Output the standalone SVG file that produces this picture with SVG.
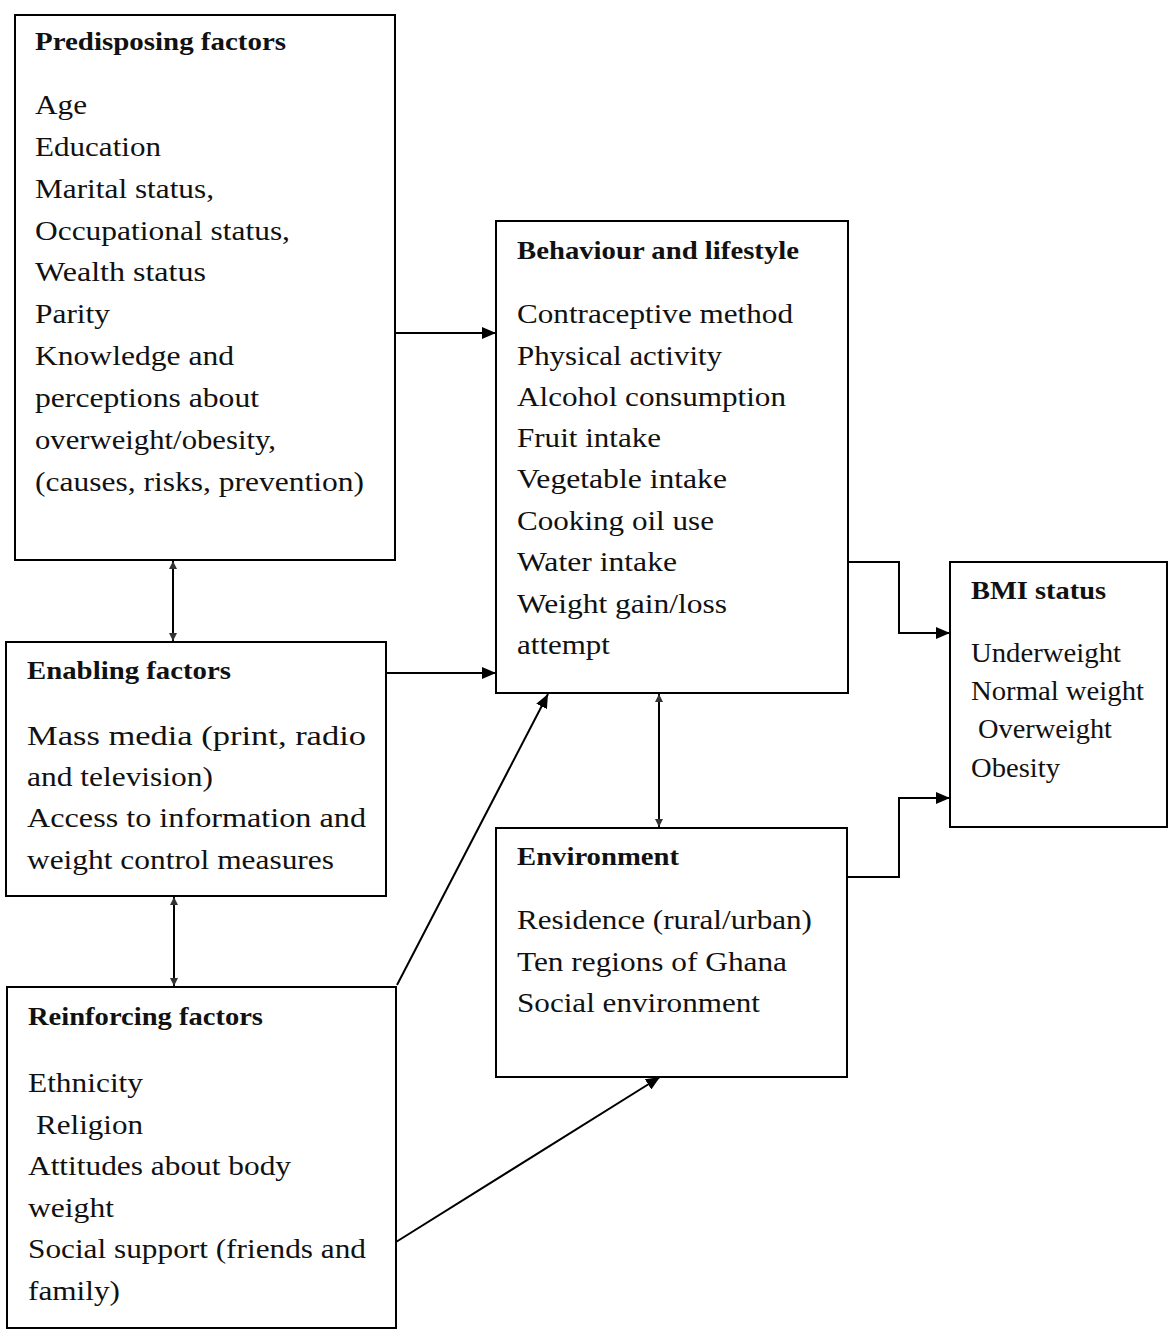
<svg xmlns="http://www.w3.org/2000/svg" width="1168" height="1329" viewBox="0 0 1168 1329">
<defs>
<style>
.box{fill:#fff;stroke:#000;stroke-width:2}
text{font-family:"Liberation Serif","Times New Roman",serif;fill:#111}
.t{font-size:28px}
.h{font-size:25px;font-weight:bold}
.s{font-size:27px}
.c{fill:none;stroke:#000;stroke-width:2}
.d{fill:none;stroke:#000;stroke-width:2}
</style>
<marker id="a" markerWidth="14" markerHeight="12" refX="14" refY="6" orient="auto" markerUnits="userSpaceOnUse">
<path d="M0,0 L14,6 L0,12 Z" fill="#000"/>
</marker>
<marker id="sm" markerWidth="8" markerHeight="8" refX="8" refY="4" orient="auto-start-reverse" markerUnits="userSpaceOnUse">
<path d="M0,0 L8,4 L0,8 Z" fill="#333"/>
</marker>
</defs>
<rect width="1168" height="1329" fill="#fff"/>

<g id="predisposing">
<rect class="box" x="15" y="15" width="380" height="545"/>
<text class="h" x="35" y="50" textLength="251" lengthAdjust="spacingAndGlyphs">Predisposing factors</text>
<text class="t" x="35" y="114" textLength="52" lengthAdjust="spacingAndGlyphs">Age</text>
<text class="t" x="35" y="156" textLength="126" lengthAdjust="spacingAndGlyphs">Education</text>
<text class="t" x="35" y="198" textLength="179" lengthAdjust="spacingAndGlyphs">Marital status,</text>
<text class="t" x="35" y="240" textLength="255" lengthAdjust="spacingAndGlyphs">Occupational status,</text>
<text class="t" x="35" y="281" textLength="171" lengthAdjust="spacingAndGlyphs">Wealth status</text>
<text class="t" x="35" y="323" textLength="75" lengthAdjust="spacingAndGlyphs">Parity</text>
<text class="t" x="35" y="365" textLength="199" lengthAdjust="spacingAndGlyphs">Knowledge and</text>
<text class="t" x="35" y="407" textLength="224" lengthAdjust="spacingAndGlyphs">perceptions about</text>
<text class="t" x="35" y="449" textLength="241" lengthAdjust="spacingAndGlyphs">overweight/obesity,</text>
<text class="t" x="35" y="491" textLength="329" lengthAdjust="spacingAndGlyphs">(causes, risks, prevention)</text>
</g>

<g id="behaviour">
<rect class="box" x="496" y="221" width="352" height="472"/>
<text class="h" x="517" y="259" textLength="282" lengthAdjust="spacingAndGlyphs">Behaviour and lifestyle</text>
<text class="t" x="517" y="323" textLength="276" lengthAdjust="spacingAndGlyphs">Contraceptive method</text>
<text class="t" x="517" y="365" textLength="205" lengthAdjust="spacingAndGlyphs">Physical activity</text>
<text class="t" x="517" y="406" textLength="269" lengthAdjust="spacingAndGlyphs">Alcohol consumption</text>
<text class="t" x="517" y="447" textLength="144" lengthAdjust="spacingAndGlyphs">Fruit intake</text>
<text class="t" x="517" y="488" textLength="210" lengthAdjust="spacingAndGlyphs">Vegetable intake</text>
<text class="t" x="517" y="530" textLength="197" lengthAdjust="spacingAndGlyphs">Cooking oil use</text>
<text class="t" x="517" y="571" textLength="160" lengthAdjust="spacingAndGlyphs">Water intake</text>
<text class="t" x="517" y="613" textLength="210" lengthAdjust="spacingAndGlyphs">Weight gain/loss</text>
<text class="t" x="517" y="654" textLength="93" lengthAdjust="spacingAndGlyphs">attempt</text>
</g>

<g id="bmi">
<rect class="box" x="950" y="562" width="217" height="265"/>
<text class="h" x="971" y="599" textLength="135" lengthAdjust="spacingAndGlyphs">BMI status</text>
<text class="s" x="971" y="662" textLength="150" lengthAdjust="spacingAndGlyphs">Underweight</text>
<text class="s" x="971" y="700" textLength="173" lengthAdjust="spacingAndGlyphs">Normal weight</text>
<text class="s" x="978" y="738" textLength="134" lengthAdjust="spacingAndGlyphs">Overweight</text>
<text class="s" x="971" y="777" textLength="89" lengthAdjust="spacingAndGlyphs">Obesity</text>
</g>

<g id="enabling">
<rect class="box" x="6" y="642" width="380" height="254"/>
<text class="h" x="27" y="679" textLength="204" lengthAdjust="spacingAndGlyphs">Enabling factors</text>
<text class="t" x="27" y="745" textLength="339" lengthAdjust="spacingAndGlyphs">Mass media (print, radio</text>
<text class="t" x="27" y="786" textLength="186" lengthAdjust="spacingAndGlyphs">and television)</text>
<text class="t" x="27" y="827" textLength="339" lengthAdjust="spacingAndGlyphs">Access to information and</text>
<text class="t" x="27" y="869" textLength="307" lengthAdjust="spacingAndGlyphs">weight control measures</text>
</g>

<g id="environment">
<rect class="box" x="496" y="828" width="351" height="249"/>
<text class="h" x="517" y="865" textLength="162" lengthAdjust="spacingAndGlyphs">Environment</text>
<text class="t" x="517" y="929" textLength="295" lengthAdjust="spacingAndGlyphs">Residence (rural/urban)</text>
<text class="t" x="517" y="971" textLength="270" lengthAdjust="spacingAndGlyphs">Ten regions of Ghana</text>
<text class="t" x="517" y="1012" textLength="243" lengthAdjust="spacingAndGlyphs">Social environment</text>
</g>

<g id="reinforcing">
<rect class="box" x="7" y="987" width="389" height="341"/>
<text class="h" x="28" y="1025" textLength="235" lengthAdjust="spacingAndGlyphs">Reinforcing factors</text>
<text class="t" x="28" y="1092" textLength="115" lengthAdjust="spacingAndGlyphs">Ethnicity</text>
<text class="t" x="36" y="1134" textLength="107" lengthAdjust="spacingAndGlyphs">Religion</text>
<text class="t" x="28" y="1175" textLength="263" lengthAdjust="spacingAndGlyphs">Attitudes about body</text>
<text class="t" x="28" y="1217" textLength="86" lengthAdjust="spacingAndGlyphs">weight</text>
<text class="t" x="28" y="1258" textLength="338" lengthAdjust="spacingAndGlyphs">Social support (friends and</text>
<text class="t" x="28" y="1300" textLength="92" lengthAdjust="spacingAndGlyphs">family)</text>
</g>

<g id="connectors">
<path class="c" d="M395,333 H496" marker-end="url(#a)"/>
<path class="c" d="M386,673 H496" marker-end="url(#a)"/>
<path class="c" d="M397,985 L548,694" marker-end="url(#a)"/>
<path class="c" d="M396,1242 L660,1077" marker-end="url(#a)"/>
<path class="c" d="M848,562 H899 V633 H950" marker-end="url(#a)"/>
<path class="c" d="M848,877 H899 V798 H950" marker-end="url(#a)"/>
<path class="d" d="M173,561 V641" marker-start="url(#sm)" marker-end="url(#sm)"/>
<path class="d" d="M174,897 V986" marker-start="url(#sm)" marker-end="url(#sm)"/>
<path class="d" d="M659,694 V827" marker-start="url(#sm)" marker-end="url(#sm)"/>
</g>
</svg>
